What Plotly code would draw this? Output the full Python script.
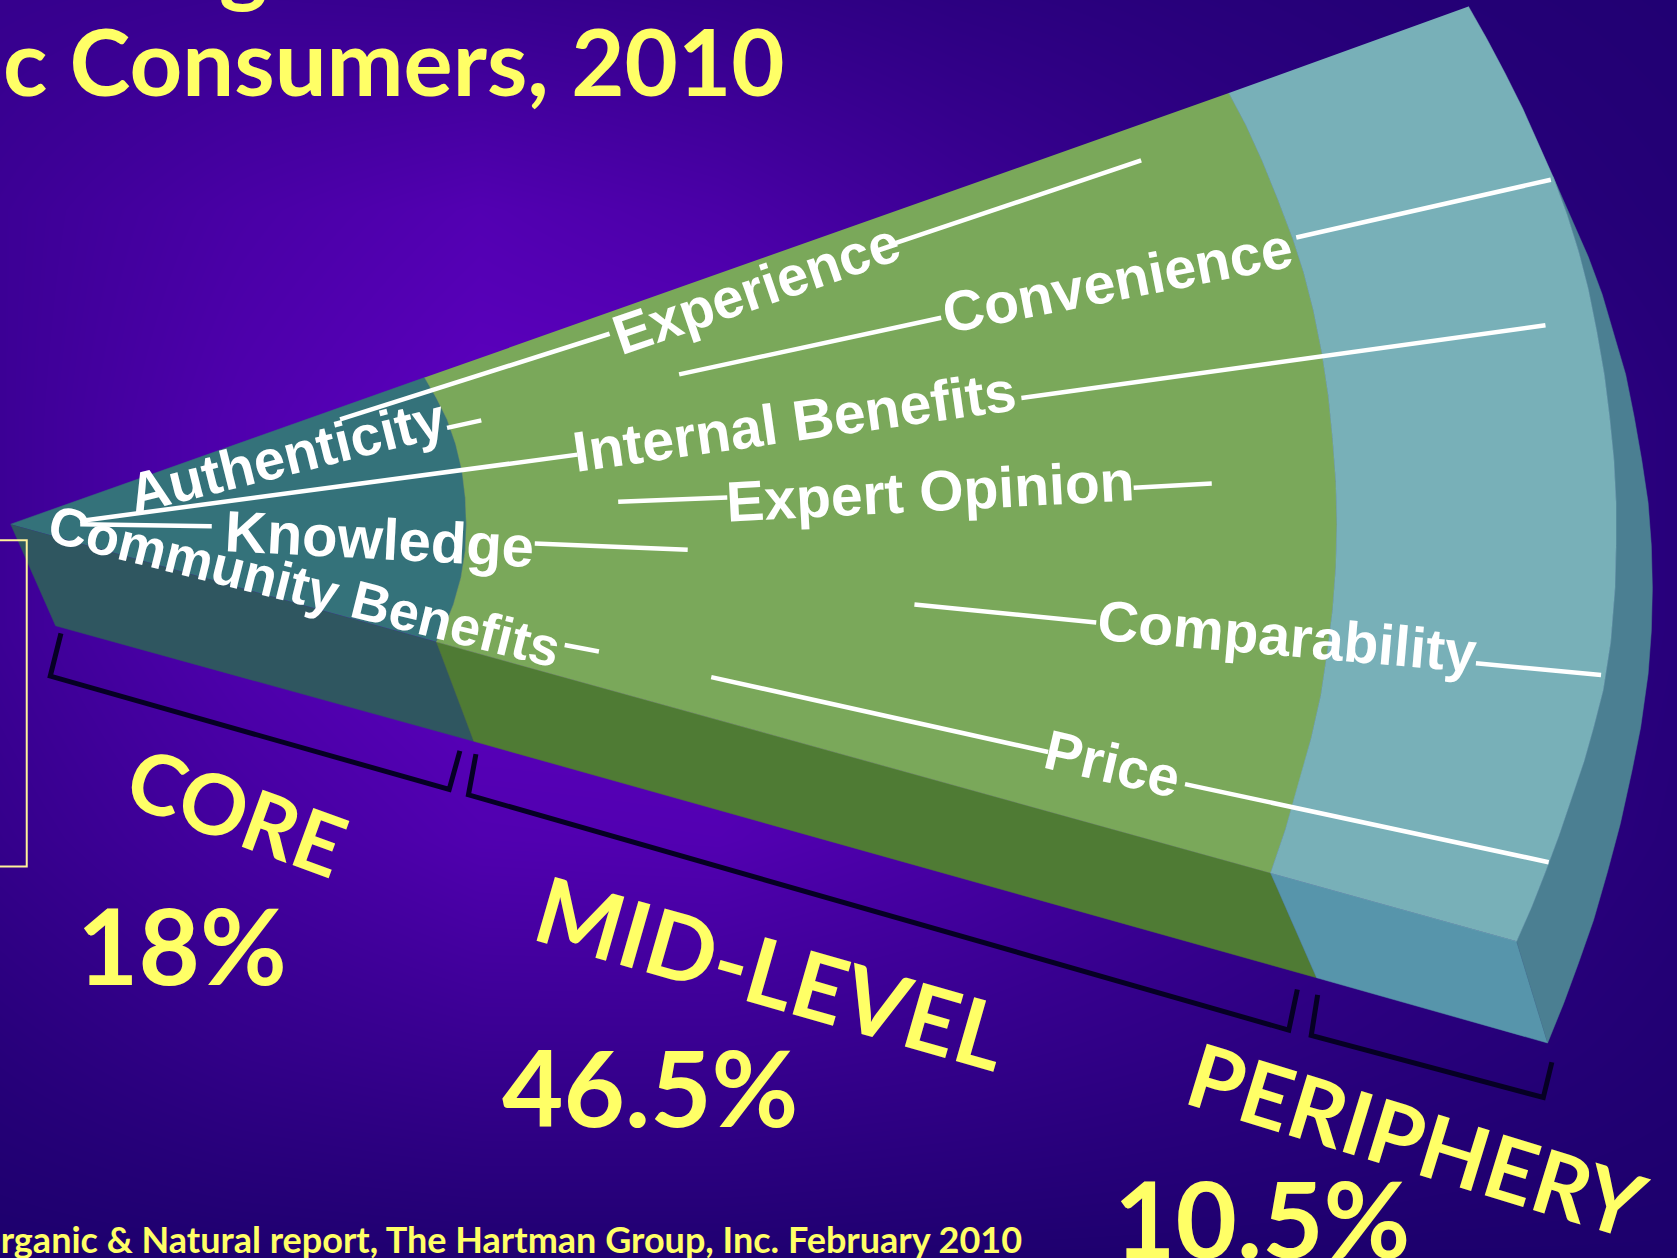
import plotly.graph_objects as go

W, H = 1568, 1176

# Background intensity, sampled by eye on a coarse grid
bg_x = [0, 224, 448, 672, 896, 1120, 1344, 1568]
bg_y = [0, 196, 392, 588, 784, 980, 1176]
bg_z = [
    [.40, .45, .42, .35, .25, .18, .12, .08],
    [.50, .70, .85, .72, .50, .32, .20, .12],
    [.50, .80, 1.0, 1.0, .85, .60, .35, .18],
    [.50, .80, 1.0, 1.0, .85, .60, .35, .18],
    [.38, .62, .82, .85, .70, .50, .30, .15],
    [.18, .35, .45, .45, .38, .28, .18, .08],
    [.00, .03, .05, .05, .03, .02, .00, .00],
]

# Shared outline points
arc1 = [(397, 353), (408, 372), (418, 392), (426, 415), (432, 440), (435, 465), (436, 490),
        (435, 515), (431, 540), (424, 565), (416, 585), (408, 600)]
arc2 = [(1149, 87), (1165, 117), (1180, 150), (1195, 187), (1209, 224), (1219, 255), (1228, 290),
        (1236, 330), (1242, 370), (1246, 410), (1249, 450), (1250, 490), (1249, 530), (1246, 570),
        (1241, 610), (1235, 650), (1226, 690), (1215, 730), (1202, 775), (1188, 816)]
arc3 = [(1373, 6), (1390, 36), (1407, 68), (1424, 102), (1440, 138), (1452, 165), (1465, 200),
        (1476, 235), (1485, 270), (1493, 310), (1500, 350), (1505, 390), (1509, 430), (1511, 470),
        (1511, 510), (1510, 550), (1506, 600), (1499, 645), (1490, 680), (1481, 712), (1470, 745),
        (1458, 780), (1445, 815), (1432, 848), (1418, 880)]
arc4 = [(1452, 165), (1470, 205), (1485, 240), (1498, 275), (1510, 315), (1520, 350), (1528, 390),
        (1535, 430), (1541, 470), (1544, 510), (1545, 550), (1544, 590), (1541, 630), (1534, 680),
        (1526, 720), (1515, 770), (1503, 815), (1490, 860), (1476, 900), (1462, 938), (1447, 975)]
apex = (10, 490)
side_low = (52, 585)
side_a = (443, 693)
side_b = (1231, 914)

faces = [
    ("core side", [apex, side_low, side_a, arc1[-1]], "#2F5660"),
    ("mid side", [arc1[-1], side_a, side_b, arc2[-1]], "#4F7B34"),
    ("periphery side", [arc2[-1], side_b, arc4[-1], arc3[-1]], "#5795AB"),
    ("outer side", arc4 + arc3[::-1][:-5], "#4B7F92"),
    ("core top", [apex] + arc1, "#34727A"),
    ("mid top", arc1 + arc2[::-1], "#7AA85A"),
    ("periphery top", arc2 + arc3[::-1], "#78B0B8"),
]

leader_lines = [
    [(318, 392), (570, 312)], [(835, 228), (1067, 150)],
    [(635, 350), (880, 297)], [(1212, 222), (1450, 168)],
    [(75, 487), (540, 425)], [(955, 372), (1445, 304)],
    [(578, 469), (680, 465)], [(1060, 456), (1133, 452)],
    [(75, 490), (198, 492)], [(500, 508), (643, 514)],
    [(418, 400), (450, 393)], [(528, 603), (560, 609)],
    [(855, 565), (1025, 582)], [(1380, 620), (1497, 631)],
    [(665, 633), (980, 703)], [(1108, 733), (1448, 806)],
]
brackets = [
    [(57, 592), (47, 632), (420, 738), (430, 702)],
    [(445, 705), (438, 743), (1205, 963), (1213, 925)],
    [(1232, 930), (1226, 968), (1443, 1026), (1451, 993)],
]
box = [(0, 505), (25, 505), (25, 810), (0, 810)]

labels = ["Experience", "Convenience", "Internal Benefits", "Expert Opinion", "Knowledge",
          "Authenticity", "Community Benefits", "Comparability", "Price"]
label_x = [707, 1045, 743, 870, 355, 268, 285, 1203, 1040]
label_y = [270, 262, 394, 459, 503, 426, 548, 595, 714]
label_angle = [-19, -11, -8, -3, 3, -14, 14, 5, 13]
label_size = [56, 57, 57, 57, 58, 56, 54, 57, 56]

seg_names = ["CORE", "MID-LEVEL", "PERIPHERY"]
seg_x = [222, 722, 1325]
seg_y = [758, 908, 1065]
seg_size = [84, 92, 88]
seg_angle = [20, 16, 17]
pct_names = ["18%", "46.5%", "10.5%"]
pct_x = [170, 608, 1180]
pct_y = [882, 1015, 1138]

title_text = "Organic Consumers, 2010"
title_above = "g"
source_text = "Source: Organic & Natural report, The Hartman Group, Inc. February 2010"

YEL = "#FFFF66"
FONT = "Lato"

fig = go.Figure()
fig.add_trace(go.Heatmap(x=bg_x, y=bg_y, z=bg_z, zsmooth="best", showscale=False, hoverinfo="skip",
                         zmin=0, zmax=1, colorscale=[[0, "#1C006C"], [1, "#5C00BE"]]))


def xs(p):
    return [a for a, _ in p]


def ys(p):
    return [b for _, b in p]


for name, pts, col in faces:
    fig.add_trace(go.Scatter(x=xs(pts), y=ys(pts), fill="toself", fillcolor=col, mode="lines",
                             line=dict(color=col, width=0.5), name=name, hoverinfo="skip"))
for seg in leader_lines:
    fig.add_trace(go.Scatter(x=xs(seg), y=ys(seg), mode="lines", line=dict(color="white", width=4.5),
                             hoverinfo="skip"))
for seg in brackets:
    fig.add_trace(go.Scatter(x=xs(seg), y=ys(seg), mode="lines", line=dict(color="#060024", width=5),
                             hoverinfo="skip"))
fig.add_trace(go.Scatter(x=xs(box), y=ys(box), mode="lines", line=dict(color="#FFF29A", width=2),
                         hoverinfo="skip"))

ann = []
for t, x, y, a, s in zip(labels, label_x, label_y, label_angle, label_size):
    ann.append(dict(x=x, y=y, text=f"<b>{t}</b>", textangle=a, showarrow=False,
                    font=dict(family="Liberation Sans", size=s, color="white")))
for t, x, y, s, a in zip(seg_names, seg_x, seg_y, seg_size, seg_angle):
    ann.append(dict(x=x, y=y, text=f"<b>{t}</b>", textangle=a, showarrow=False,
                    font=dict(family=FONT, size=s, color=YEL)))
for t, x, y in zip(pct_names, pct_x, pct_y):
    ann.append(dict(x=x, y=y, text=f"<b>{t}</b>", showarrow=False,
                    font=dict(family=FONT, size=106, color=YEL)))
ann.append(dict(x=736, y=57, xanchor="right", text=f"<b>{title_text}</b>", showarrow=False,
                font=dict(family=FONT, size=92, color=YEL)))
ann.append(dict(x=228, y=16, yanchor="bottom", text=f"<b>{title_above}</b>", showarrow=False,
                font=dict(family=FONT, size=92, color=YEL)))
ann.append(dict(x=957, y=1158, xanchor="right", text=f"<b>{source_text}</b>", showarrow=False,
                font=dict(family=FONT, size=36, color=YEL)))

fig.update_layout(
    width=1677, height=1258, margin=dict(l=0, r=0, t=0, b=0), showlegend=False,
    paper_bgcolor="#1C006C", plot_bgcolor="#1C006C", annotations=ann,
    xaxis=dict(range=[0, W], visible=False, fixedrange=True),
    yaxis=dict(range=[H, 0], visible=False, fixedrange=True),
)
fig.write_html("out.html", config={"displayModeBar": False},
               post_script="document.body.style.margin='0';document.documentElement.style.overflow='hidden';")
